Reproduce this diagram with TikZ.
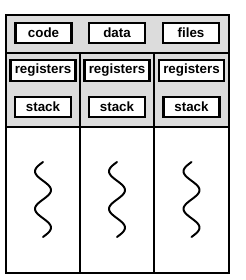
\documentclass[tikz,border=0pt]{standalone}
\usepackage{fontspec}
\setsansfont{Liberation Sans}
\definecolor{ink}{HTML}{000000}
\definecolor{panel}{HTML}{DCDCDC}

\begin{document}
\begin{tikzpicture}[x=0.025cm,y=-0.025cm,font=\sffamily\bfseries,text=ink,
  part/.style={draw=ink,line width=1.8pt,fill=white,inner sep=0pt,
    minimum width=1.40cm,minimum height=0.50cm,font=\fontsize{9.5}{10}\sffamily\bfseries},
  wide/.style={part,minimum width=1.62cm,minimum height=0.52cm}]
  \useasboundingbox (0,0) rectangle (245,280);

  % shared part of the process
  \fill[panel] (6,15) rectangle (229,127);
  \draw[ink,line width=1.4pt] (6,15) rectangle (229,273);
  \draw[ink,line width=1.4pt] (6,53) -- (229,53);
  \draw[ink,line width=1.4pt] (6,127) -- (229,127);
  \draw[ink,line width=1.4pt] (80,53) -- (80,273);
  \draw[ink,line width=1.4pt] (154,53) -- (154,273);

  \node[part] (code)  at (43.5,33) {code};
  \node[part] (data)  at (117,33)  {data};
  \node[part] (files) at (191,33)  {files};

  % one column per thread
  \foreach \i/\cx in {1/43,2/117,3/191.5}{
    \node[wide] (reg\i)   at (\cx,70.5) {registers};
    \node[part] (stack\i) at (\cx,107)  {stack};
    \draw[ink,line width=1.4pt,line cap=round]
      plot[domain=0:720,samples=70,smooth] ({\cx-8*sin(\x)},{162+\x/720*75});
  }
\end{tikzpicture}
\end{document}
